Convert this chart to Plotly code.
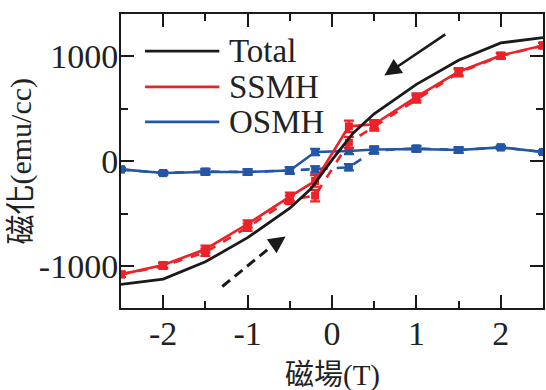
import plotly.graph_objects as go

# Applied field (T) for the two sweep directions
field_down = [2.5, 2.0, 1.5, 1.0, 0.5, 0.2, -0.2, -0.5, -1.0, -1.5, -2.0, -2.5]
field_up = [-2.5, -2.0, -1.5, -1.0, -0.5, -0.2, 0.2, 0.5, 1.0, 1.5, 2.0, 2.5]

# Total magnetization (emu/cc)
total_field = [-2.5, -2.0, -1.5, -1.0, -0.5, -0.25, 0.0, 0.25, 0.5, 1.0, 1.5, 2.0, 2.5]
total_m = [-1175, -1125, -960, -730, -450, -265, 10, 265, 450, 730, 960, 1125, 1175]

# SSMH component: descending (solid) and ascending (dashed) sweeps
ssmh_down = [1100, 1005, 850, 610, 350, 330, -190, -340, -600, -840, -990, -1080]
ssmh_down_err = [25, 25, 35, 35, 40, 55, 55, 40, 35, 35, 25, 25]
ssmh_up = [-1080, -1000, -870, -630, -370, -330, 175, 330, 590, 840, 1000, 1100]
ssmh_up_err = [25, 25, 35, 35, 40, 55, 55, 40, 35, 35, 25, 25]

# OSMH component: descending (solid) and ascending (dashed) sweeps
osmh_down = [85, 130, 105, 115, 110, 95, 85, -90, -105, -105, -115, -80]
osmh_down_err = [15, 15, 25, 25, 30, 30, 30, 30, 25, 25, 15, 15]
osmh_up = [-80, -115, -100, -105, -90, -80, -60, 100, 120, 105, 130, 85]
osmh_up_err = [15, 15, 25, 25, 30, 30, 30, 30, 25, 25, 15, 15]

# Axis ticks
x_ticks = [-2, -1, 0, 1, 2]
x_ticktext = ["-2", "-1", "0", "1", "2"]
y_ticks = [-1000, 0, 1000]
y_ticktext = ["-1000", "0", "1000"]

legend_names = ["Total", "SSMH", "OSMH"]

BLACK = "#1a1a1a"
RED = "#ec2228"
BLUE = "#2456a6"
FONT = "Liberation Serif, Noto Sans CJK TC"

fig = go.Figure()


def branch(x, y, err, color, dash):
    fig.add_trace(go.Scatter(
        x=x, y=y, mode="lines+markers",
        line=dict(color=color, width=2.6, dash=dash),
        marker=dict(symbol="square", size=8, color=color),
        error_y=dict(type="data", array=err, color=color, thickness=2.2, width=5),
        showlegend=False,
    ))


branch(field_up, osmh_up, osmh_up_err, BLUE, "dash")
branch(field_down, osmh_down, osmh_down_err, BLUE, "solid")
branch(field_up, ssmh_up, ssmh_up_err, RED, "dash")
branch(field_down, ssmh_down, ssmh_down_err, RED, "solid")

fig.add_trace(go.Scatter(
    x=total_field, y=total_m, mode="lines",
    line=dict(color=BLACK, width=2.8), showlegend=False,
))

# Hand-drawn legend in the upper-left corner
legend_colors = [BLACK, RED, BLUE]
legend_rows = [0.874, 0.752, 0.633]
for name, color, yr in zip(legend_names, legend_colors, legend_rows):
    fig.add_shape(type="line", xref="paper", yref="paper",
                  x0=0.057, x1=0.233, y0=yr, y1=yr,
                  line=dict(color=color, width=2.8))
    fig.add_annotation(xref="paper", yref="paper", x=0.252, y=yr,
                       text=name, showarrow=False, xanchor="left",
                       yanchor="middle", font=dict(size=33, color="#222", family=FONT))

# Sweep-direction arrows
fig.add_annotation(x=0.62, y=815, ax=1.36, ay=1215, xref="x", yref="y",
                   axref="x", ayref="y", text="", showarrow=True,
                   arrowhead=2, arrowsize=1.3, arrowwidth=2.6,
                   arrowcolor=BLACK)
fig.add_shape(type="line", xref="x", yref="y",
              x0=-1.30, y0=-1195, x1=-0.75, y1=-835,
              line=dict(color=BLACK, width=3, dash="10px,6px"))
fig.add_annotation(x=-0.55, y=-720, ax=-0.72, ay=-815, xref="x", yref="y",
                   axref="x", ayref="y", text="", showarrow=True,
                   arrowhead=2, arrowsize=1.3, arrowwidth=2.6,
                   arrowcolor=BLACK)

# Axis titles
fig.add_annotation(xref="paper", yref="paper", x=0.5, y=-0.228,
                   text="磁場(T)", showarrow=False, xanchor="center",
                   yanchor="middle", font=dict(size=29, color="#222", family=FONT))
fig.add_annotation(xref="paper", yref="paper", x=-0.238, y=0.50,
                   text="磁化(emu/cc)", showarrow=False, textangle=-90,
                   xanchor="center", yanchor="middle",
                   font=dict(size=30, color="#222", family=FONT))

axis_common = dict(
    showgrid=False, zeroline=False, showline=True, linecolor=BLACK,
    linewidth=2, mirror="allticks", ticks="inside", ticklen=13,
    tickwidth=2, tickcolor=BLACK,
    tickfont=dict(size=34, color="#222", family=FONT),
)

fig.update_xaxes(
    range=[-2.5, 2.5], tickvals=x_ticks, ticktext=x_ticktext,
    minor=dict(ticks="inside", ticklen=7, tickwidth=2, tickcolor=BLACK, dtick=0.5),
    ticklabelstandoff=-6, **axis_common,
)
fig.update_yaxes(
    range=[-1400, 1400], tickvals=y_ticks, ticktext=y_ticktext,
    minor=dict(ticks="inside", ticklen=7, tickwidth=2, tickcolor=BLACK, dtick=500),
    ticklabelstandoff=-6, **axis_common,
)

fig.update_layout(
    width=546, height=390,
    margin=dict(l=121, r=1, t=14, b=82),
    paper_bgcolor="white", plot_bgcolor="white",
    font=dict(family=FONT, color="#222"),
    showlegend=False,
)

fig.write_html("out.html")
